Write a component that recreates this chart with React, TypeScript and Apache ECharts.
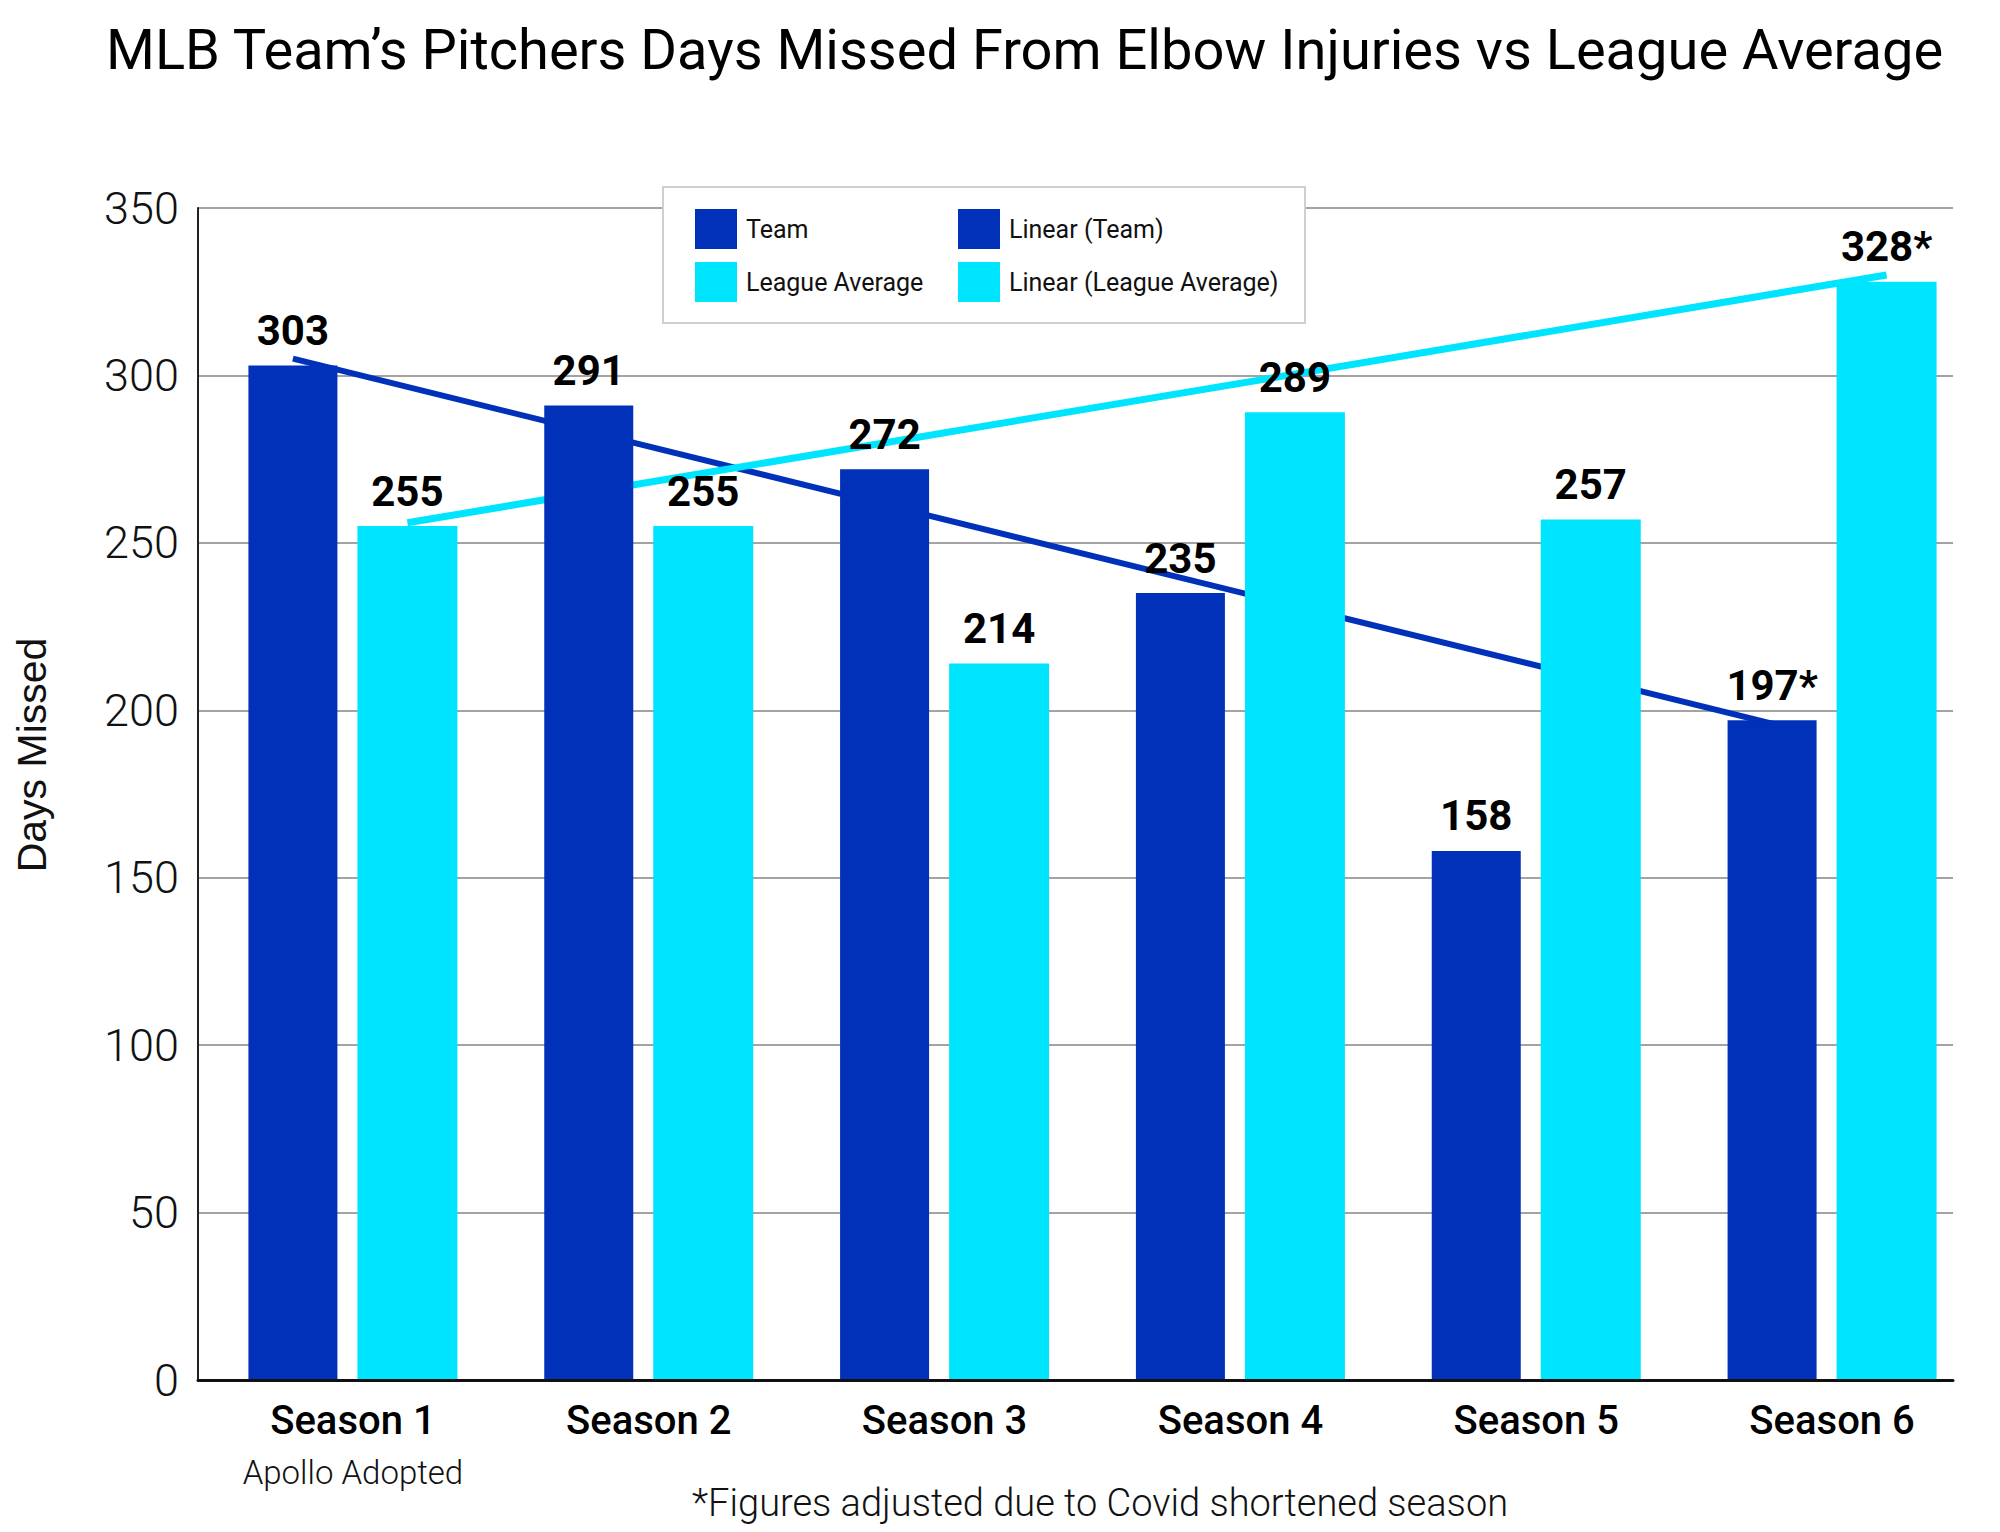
import React, { useEffect, useRef } from 'react';
import * as echarts from 'echarts';

const categories = ['Season 1', 'Season 2', 'Season 3', 'Season 4', 'Season 5', 'Season 6'];
const subLabels = ['Apollo Adopted', '', '', '', '', ''];
const teamValues = [303, 291, 272, 235, 158, 197];
const leagueValues = [255, 255, 214, 289, 257, 328];
const labelMarks = ['', '', '', '', '', '*'];
const teamTrend = [305, 196];
const leagueTrend = [256, 330];
const yMin = 0;
const yMax = 350;
const yInterval = 50;

const TEAM = '#0131B9';
const LEAGUE = '#00E5FF';
const FONT = 'Roboto, "Noto Sans", sans-serif';

export default function App() {
  const ref = useRef<HTMLDivElement>(null);
  useEffect(() => {
    document.body.style.margin = '0';
    const chart = echarts.init(ref.current!, null, { renderer: 'svg' });

    const W = 2000;
    const gridBLeft = 205;
    const gridBRight = 20;
    const catW = (W - gridBLeft - gridBRight) / categories.length;
    const teamW = 89;
    const leagueW = 100;
    const gapPx = 20;
    const pairW = teamW + gapPx + leagueW;
    const teamOff = (-pairW / 2 + teamW / 2) / catW;
    const leagueOff = (-pairW / 2 + teamW + gapPx + leagueW / 2) / catW;
    const last = categories.length - 1;

    const teamTrendData = [
      [0.5 + teamOff, teamTrend[0]],
      [last + 0.5 + teamOff, teamTrend[1]],
    ];
    const leagueTrendData = [
      [0.5 + leagueOff, leagueTrend[0]],
      [last + 0.5 + leagueOff, leagueTrend[1]],
    ];

    const barLabel = {
      show: true,
      position: 'top',
      distance: 15,
      fontFamily: FONT,
      fontSize: 42,
      fontWeight: 700,
      lineHeight: 40,
      color: '#000',
      formatter: (p: any) => `${p.value}${labelMarks[p.dataIndex]}`,
    };

    const legendBase = {
      orient: 'vertical',
      top: 209,
      itemWidth: 42,
      itemHeight: 40,
      itemGap: 13,
      padding: 0,
      icon: 'rect',
      selectedMode: false,
      z: 10,
      textStyle: { fontFamily: FONT, fontSize: 25, fontWeight: 400, color: '#111', padding: [0, 0, 0, 4] },
    };

    const option: any = {
      animation: false,
      backgroundColor: '#fff',
      textStyle: { fontFamily: FONT },
      grid: [
        { left: 198, right: 47, top: 208, bottom: 152 },
        { left: gridBLeft, right: gridBRight, top: 208, bottom: 152 },
      ],
      legend: [
        {
          ...legendBase,
          left: 695,
          data: [
            { name: 'Team', itemStyle: { color: TEAM } },
            { name: 'League Average', itemStyle: { color: LEAGUE } },
          ],
        },
        {
          ...legendBase,
          left: 958,
          data: [
            { name: 'Linear (Team)', itemStyle: { color: TEAM } },
            { name: 'Linear (League Average)', itemStyle: { color: LEAGUE } },
          ],
        },
      ],
      xAxis: [
        {
          gridIndex: 0,
          type: 'value',
          min: 0,
          max: 1,
          z: 5,
          axisLine: { show: true, lineStyle: { color: '#111', width: 3 } },
          axisTick: { show: false },
          axisLabel: { show: false },
          splitLine: { show: false },
        },
        {
          gridIndex: 1,
          type: 'category',
          data: categories,
          axisLine: { show: false },
          axisTick: { show: false },
          axisLabel: {
            margin: 18,
            interval: 0,
            formatter: (v: string, i: number) =>
              subLabels[i] ? `{a|${v}}\n{b|${subLabels[i]}}` : `{a|${v}}`,
            rich: {
              a: { fontFamily: FONT, fontSize: 40, fontWeight: 500, color: '#000', lineHeight: 44 },
              b: { fontFamily: FONT, fontSize: 33, fontWeight: 300, color: '#111', lineHeight: 60 },
            },
          },
        },
        { gridIndex: 1, type: 'value', min: 0, max: categories.length, show: false },
      ],
      yAxis: [
        {
          gridIndex: 0,
          type: 'value',
          min: yMin,
          max: yMax,
          interval: yInterval,
          axisLine: { show: true, lineStyle: { color: '#222', width: 2 } },
          axisTick: { show: false },
          axisLabel: { margin: 19, fontFamily: FONT, fontSize: 45, fontWeight: 300, color: '#111' },
          splitLine: { show: true, lineStyle: { color: '#858585', width: 1.5 } },
        },
        { gridIndex: 1, type: 'value', min: yMin, max: yMax, show: false },
      ],
      series: [
        {
          name: 'Team',
          type: 'bar',
          xAxisIndex: 1,
          yAxisIndex: 1,
          data: teamValues,
          barWidth: teamW,
          barGap: `${(gapPx / teamW) * 100}%`,
          itemStyle: { color: TEAM },
          label: barLabel,
          z: 3,
        },
        {
          name: 'League Average',
          type: 'bar',
          xAxisIndex: 1,
          yAxisIndex: 1,
          data: leagueValues,
          barWidth: leagueW,
          barGap: `${(gapPx / teamW) * 100}%`,
          itemStyle: { color: LEAGUE },
          label: barLabel,
          z: 3,
        },
        {
          name: 'Linear (Team)',
          type: 'line',
          xAxisIndex: 2,
          yAxisIndex: 1,
          data: teamTrendData,
          symbol: 'none',
          color: TEAM,
          lineStyle: { color: TEAM, width: 6 },
          z: 2,
          silent: true,
        },
        {
          name: 'Linear (League Average)',
          type: 'line',
          xAxisIndex: 2,
          yAxisIndex: 1,
          data: leagueTrendData,
          symbol: 'none',
          color: LEAGUE,
          lineStyle: { color: LEAGUE, width: 7 },
          z: 2,
          silent: true,
        },
      ],
      graphic: [
        {
          type: 'rect',
          z: 8,
          shape: { x: 663, y: 187, width: 642, height: 136 },
          style: { fill: '#fff', stroke: '#cfcfcf', lineWidth: 2 },
        },
        {
          type: 'text',
          left: 106,
          top: 22,
          style: {
            text: 'MLB Team\u2019s Pitchers Days Missed From Elbow Injuries vs League Average',
            font: `400 56px ${FONT}`,
            fill: '#000',
          },
        },
        {
          type: 'text',
          x: 32,
          y: 755,
          rotation: Math.PI / 2,
          style: {
            text: 'Days Missed',
            font: '400 41px "Liberation Sans", Arial, sans-serif',
            fill: '#111',
            textAlign: 'center',
            textVerticalAlign: 'middle',
          },
        },
        {
          type: 'text',
          x: 692,
          y: 1503,
          style: {
            text: '*Figures adjusted due to Covid shortened season',
            font: `300 38px ${FONT}`,
            fill: '#111',
            textAlign: 'left',
            textVerticalAlign: 'middle',
          },
        },
      ],
    };

    chart.setOption(option);
    return () => chart.dispose();
  }, []);
  return <div ref={ref} style={{ width: 2000, height: 1532 }} />;
}
